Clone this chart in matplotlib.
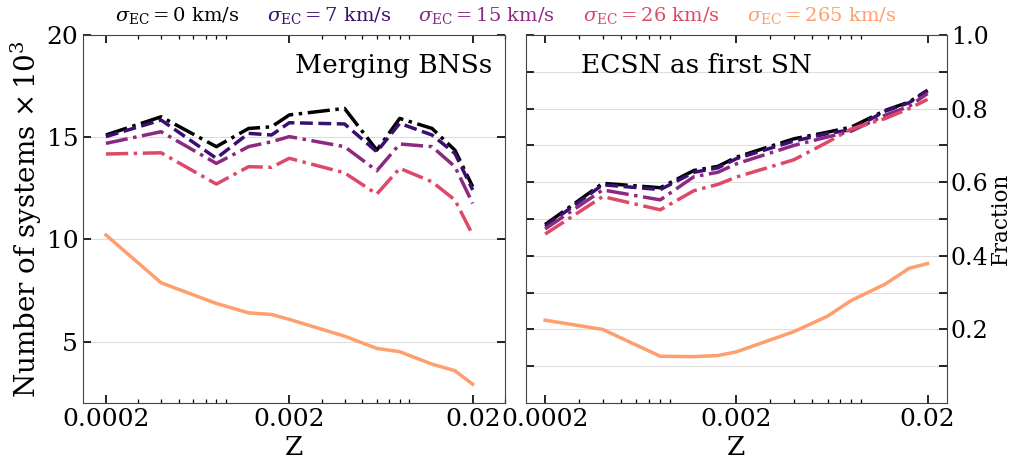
import matplotlib
matplotlib.use("Agg")
import matplotlib.pyplot as plt
import numpy as np

plt.rcParams['font.family'] = 'DejaVu Serif'
plt.rcParams['mathtext.fontset'] = 'dejavuserif'

Z = [0.0002, 0.0004, 0.0008, 0.0012, 0.0016, 0.002, 0.004, 0.006, 0.008, 0.012, 0.016, 0.02]
sigmas = [0, 7, 15, 26, 265]

# merging BNSs, in units of 10^3
n_bns = {
    0:   [15.11, 16.00, 14.54, 15.43, 15.51, 16.09, 16.41, 14.37, 15.92, 15.43, 14.37, 12.58],
    7:   [15.03, 15.84, 13.97, 15.19, 15.11, 15.71, 15.65, 14.29, 15.68, 15.11, 14.21, 12.42],
    15:  [14.70, 15.27, 13.72, 14.54, 14.78, 15.03, 14.54, 13.36, 14.67, 14.54, 13.56, 11.76],
    26:  [14.18, 14.24, 12.71, 13.56, 13.53, 13.97, 13.26, 12.22, 13.48, 12.82, 11.93, 10.22],
    265: [10.22, 7.88, 6.87, 6.41, 6.33, 6.09, 5.27, 4.67, 4.51, 3.90, 3.58, 2.92],
}

# fraction with ECSN as first SN
frac_ecsn = {
    0:   [0.485, 0.597, 0.585, 0.632, 0.643, 0.668, 0.718, 0.736, 0.750, 0.795, 0.818, 0.850],
    7:   [0.480, 0.593, 0.580, 0.627, 0.639, 0.664, 0.712, 0.732, 0.743, 0.793, 0.816, 0.848],
    15:  [0.473, 0.579, 0.552, 0.615, 0.627, 0.650, 0.700, 0.723, 0.739, 0.782, 0.806, 0.841],
    26:  [0.459, 0.561, 0.525, 0.577, 0.594, 0.614, 0.661, 0.709, 0.745, 0.773, 0.800, 0.825],
    265: [0.225, 0.200, 0.127, 0.126, 0.129, 0.139, 0.194, 0.236, 0.279, 0.323, 0.366, 0.379],
}

colors = {0: 'black', 7: '#3b0f70', 15: '#8c2981', 26: '#de4968', 265: '#fe9f6d'}
styles = {0: '-.', 7: '--', 15: '-.', 26: '-.', 265: '-'}

fig = plt.figure(figsize=(10.11, 4.59), dpi=100)
ax1 = fig.add_axes([0.0821, 0.122, 0.4174, 0.8017])
ax2 = fig.add_axes([0.5203, 0.122, 0.4161, 0.8017])

for s in sigmas:
    ax1.plot(Z, n_bns[s], ls=styles[s], color=colors[s], lw=2.5,
             label=r'$\sigma_{\rm EC} = %d$ km/s' % s)
    ax2.plot(Z, frac_ecsn[s], ls=styles[s], color=colors[s], lw=2.5)

xt = [0.0002, 0.002, 0.02]
for ax in (ax1, ax2):
    ax.set_xscale('log')
    ax.set_xticks(xt)
    ax.set_xticklabels(['0.0002', '0.002', '0.02'])
    ax.set_xlabel('Z', fontsize=19, labelpad=3)
    ax.tick_params(which='both', direction='in', top=True, right=True, labelsize=18)
    ax.tick_params(which='major', length=6, width=1.2)
    ax.tick_params(which='minor', length=3, width=0.9)
    ax.tick_params(axis='y', which='minor', left=False, right=False)
    ax.grid(axis='y', color='#dddddd', lw=0.8)
    ax.set_axisbelow(True)
    for sp in ax.spines.values():
        sp.set_color('#444444')

ax1.set_xlim(0.00015, 0.03)
ax1.set_ylim(2, 20)
ax1.set_yticks([5, 10, 15, 20])
ax1.set_ylabel(r'Number of systems $\times\,10^3$', fontsize=20, labelpad=2)
ax1.text(0.97, 0.918, 'Merging BNSs', transform=ax1.transAxes, ha='right', va='center', fontsize=19)

ax2.set_ylim(0, 1)
ax2.set_yticks(np.arange(0.1, 1.01, 0.1))
ax2.set_yticklabels(['' if i % 2 == 0 else '%.1f' % v
                     for i, v in enumerate(np.arange(0.1, 1.01, 0.1))])
ax2.yaxis.tick_right()
ax2.tick_params(axis='y', which='both', left=True, right=True, labelleft=False, labelright=True,
                labelsize=17, pad=3)
ax2.yaxis.set_label_position('right')
ax2.set_ylabel('Fraction', fontsize=15.5, labelpad=1)
ax2.text(0.13, 0.918, 'ECSN as first SN', transform=ax2.transAxes, ha='left', va='center', fontsize=19)

leg = fig.legend(*ax1.get_legend_handles_labels(), loc='center', bbox_to_anchor=(0.5, 0.966),
                 ncol=5, frameon=False, handlelength=0, handletextpad=0, columnspacing=1.4,
                 fontsize=14, labelcolor='linecolor')
for h in leg.legend_handles:
    h.set_visible(False)

fig.savefig('out.png', dpi=100)
